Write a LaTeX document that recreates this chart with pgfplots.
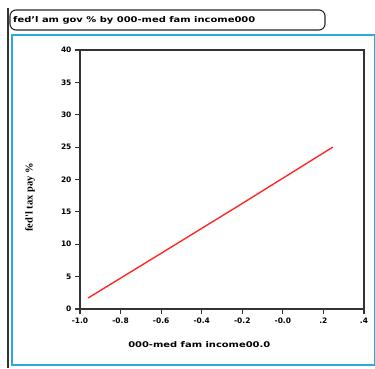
\documentclass[border=0pt]{standalone}
\usepackage{pgfplots}
\pgfplotsset{compat=1.18}
\usepackage{fontspec}
\setmainfont{DejaVu Sans}
\newfontfamily\serif{Liberation Serif}
\definecolor{frameblue}{RGB}{40,170,225}
\definecolor{linered}{RGB}{255,40,40}
\begin{document}
\begin{tikzpicture}
\begin{scope}[x=1pt,y=1pt]
\path[use as bounding box] (0,0) rectangle (375,368);
% outer black line
\draw[line width=2pt,black!80] (8,368-8) -- (8,0);
% title box
\draw[line width=1.1pt,black!85,rounded corners=6pt] (10,368-10) rectangle (325,368-30);
\node[anchor=west,inner sep=0pt,font=\fontsize{7.5}{8}\selectfont\bfseries] at (13,368-20) {\resizebox{242pt}{6pt}{fed'l am gov \% by 000-med fam income000}};
% blue frame
\draw[line width=1.3pt,frameblue] (12,368-35) rectangle (374.5,368-365);
\end{scope}
\begin{axis}[
  at={(80pt,59pt)}, anchor=south west,
  width=284pt, height=259pt, scale only axis,
  xmin=-1.0, xmax=0.4, ymin=0, ymax=40,
  xtick={-1.0,-0.8,-0.6,-0.4,-0.2,0.0,0.2,0.4},
  xticklabels={-1.0,-0.8,-0.6,-0.4,-0.2,-0.0,.2,.4},
  ytick={0,5,10,15,20,25,30,35,40},
  tick align=outside, tick pos=left,
  major tick length=5pt,
  axis line style={line width=1.3pt,black!80},
  every tick/.style={line width=1.1pt,black!80},
  tick label style={font=\fontsize{7.5}{8}\selectfont\bfseries},
  /pgf/number format/assume math mode=true,
  xlabel={\resizebox{142pt}{6pt}{000-med fam income00.0}},
  ylabel={\serif fed'l tax pay \%},
  xlabel style={font=\fontsize{7}{8}\selectfont\bfseries, at={(axis description cs:0.42,-0.139)}, anchor=center},
  ylabel style={font=\fontsize{10.5}{12}\selectfont\bfseries, at={(axis description cs:-0.176,0.43)}, anchor=center},
  clip=false,
]
\addplot[linered, line width=1.4pt] coordinates {(-0.96,1.7) (-0.6,8.6) (-0.2,16.3) (0.246,25.0)};
\end{axis}
\end{tikzpicture}
\end{document}
